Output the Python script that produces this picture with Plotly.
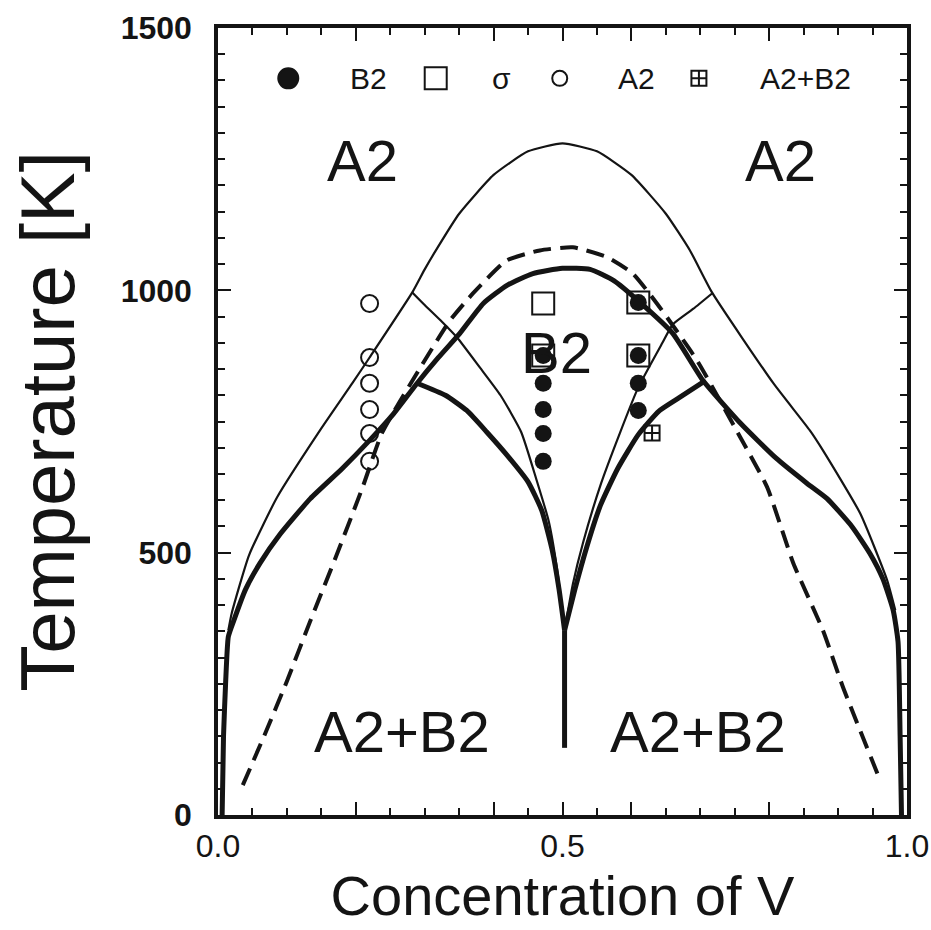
import plotly.graph_objects as go

# thin outer line (A2 order-disorder boundary)
x_thin_outer = [0.015, 0.02, 0.045, 0.086, 0.148, 0.195, 0.22, 0.282, 0.30, 0.318, 0.35, 0.40, 0.45,
                0.5, 0.55, 0.60, 0.65, 0.685, 0.717, 0.806, 0.859, 0.878, 0.932, 0.971, 0.983]
t_thin_outer = [352, 385, 495, 606, 733, 823, 872, 996, 1040, 1080, 1146, 1220, 1265,
                1280, 1265, 1220, 1146, 1076, 996, 823, 733, 695, 575, 448, 390]

# thick line: A2 / A2+B2 wings and B2 dome
x_thick_upper = [0.006, 0.008, 0.011, 0.015, 0.023, 0.04, 0.061, 0.09, 0.134, 0.18, 0.22, 0.255,
                 0.289, 0.32, 0.351, 0.385, 0.42, 0.457, 0.5, 0.54, 0.575, 0.61, 0.66, 0.704,
                 0.758, 0.81, 0.855, 0.884, 0.92, 0.946, 0.965, 0.98, 0.987, 0.99, 0.992]
t_thick_upper = [0, 150, 250, 340, 371, 430, 480, 535, 603, 660, 714, 765,
                 823, 872, 918, 975, 1010, 1032, 1042, 1040, 1018, 980, 918, 828,
                 747, 680, 632, 603, 550, 499, 450, 390, 330, 150, 0]

# thick lower branches down to the central cusp
x_thick_low_l = [0.289, 0.33, 0.361, 0.39, 0.42, 0.45, 0.47, 0.485, 0.495, 0.503]
t_thick_low_l = [823, 800, 771, 730, 685, 635, 580, 505, 430, 352]
x_thick_low_r = [0.704, 0.67, 0.64, 0.61, 0.58, 0.555, 0.535, 0.518, 0.503]
t_thick_low_r = [825, 796, 770, 725, 660, 590, 510, 430, 352]
x_cusp = [0.503, 0.503]
t_cusp = [352, 128]

# thin inner lines from the triple junctions
x_thin_in_l = [0.282, 0.30, 0.325, 0.347, 0.38, 0.41, 0.44, 0.462, 0.48, 0.492, 0.503]
t_thin_in_l = [996, 972, 940, 910, 853, 800, 730, 640, 560, 470, 352]
x_thin_in_r = [0.717, 0.69, 0.66, 0.645, 0.61, 0.583, 0.556, 0.53, 0.515, 0.503]
t_thin_in_r = [994, 965, 935, 900, 815, 727, 632, 520, 440, 352]

# dashed line
x_dash = [0.036, 0.07, 0.1, 0.134, 0.172, 0.21, 0.238, 0.29, 0.337, 0.37, 0.419, 0.467,
          0.515, 0.565, 0.602, 0.637, 0.695, 0.758, 0.797, 0.835, 0.878, 0.907, 0.958]
t_dash = [57, 160, 255, 370, 495, 625, 728, 845, 943, 994, 1057, 1076,
          1082, 1063, 1032, 975, 867, 720, 625, 480, 352, 244, 76]

# simulation points
x_a2 = [0.22, 0.22, 0.22, 0.22, 0.22, 0.22]
t_a2 = [975, 872, 823, 773, 727, 674]
x_b2 = [0.472, 0.472, 0.472, 0.472, 0.472, 0.61, 0.61, 0.61, 0.61]
t_b2 = [876, 823, 773, 727, 674, 977, 876, 823, 771]
x_sigma = [0.472, 0.472, 0.61, 0.61]
t_sigma = [975, 876, 977, 876]
x_a2b2 = [0.63]
t_a2b2 = [728]

legend_labels = ['B2', 'σ', 'A2', 'A2+B2']
region_labels = ['A2', 'A2', 'B2', 'A2+B2', 'A2+B2']
region_x = [0.209, 0.816, 0.492, 0.267, 0.697]
region_t = [1248, 1248, 882, 160, 160]

INK = '#141414'
FONT = 'Liberation Sans, Arial, sans-serif'

fig = go.Figure()

def line(x, y, width, dash='solid'):
    fig.add_trace(go.Scatter(x=x, y=y, mode='lines', showlegend=False, hoverinfo='skip',
                             line=dict(color=INK, width=width, dash=dash, shape='spline', smoothing=0.5)))

line(x_thin_outer, t_thin_outer, 2.2)
line(x_thin_in_l, t_thin_in_l, 2.2)
line(x_thin_in_r, t_thin_in_r, 2.2)
line(x_dash, t_dash, 4, dash='18px,9px')
line(x_thick_upper, t_thick_upper, 5)
line(x_thick_low_l, t_thick_low_l, 5)
line(x_thick_low_r, t_thick_low_r, 5)
line(x_cusp, t_cusp, 5)

# markers
fig.add_trace(go.Scatter(x=x_a2, y=t_a2, mode='markers', showlegend=False,
                         marker=dict(symbol='circle-open', size=17, color=INK, line=dict(width=2))))
fig.add_trace(go.Scatter(x=x_sigma, y=t_sigma, mode='markers', showlegend=False,
                         marker=dict(symbol='square-open', size=22, color=INK, line=dict(width=2))))
fig.add_trace(go.Scatter(x=x_b2, y=t_b2, mode='markers', showlegend=False,
                         marker=dict(symbol='circle', size=17, color=INK)))
fig.add_trace(go.Scatter(x=x_a2b2, y=t_a2b2, mode='markers', showlegend=False,
                         marker=dict(symbol='square-cross-open', size=15, color=INK, line=dict(width=2))))

# key row inside the frame
key_t = 1404
key_sym = ['circle', 'square-open', 'circle-open', 'square-cross-open']
key_size = [20, 22, 15, 15]
key_mx = [0.102, 0.316, 0.496, 0.698]
key_tx = [0.219, 0.412, 0.607, 0.852]
for mx, sym, sz in zip(key_mx, key_sym, key_size):
    fig.add_trace(go.Scatter(x=[mx], y=[key_t], mode='markers', showlegend=False, cliponaxis=False,
                             hoverinfo='skip',
                             marker=dict(symbol=sym, size=sz, color=INK, line=dict(width=2, color=INK))))
for tx, lab in zip(key_tx, legend_labels):
    fig.add_annotation(x=tx, y=key_t, text=lab, showarrow=False,
                       font=dict(family=FONT, size=30, color=INK))

for lab, rx, rt in zip(region_labels, region_x, region_t):
    fig.add_annotation(x=rx, y=rt, text=lab, showarrow=False,
                       font=dict(family=FONT, size=58, color=INK))

fig.update_xaxes(range=[0, 1], tickvals=[0, 0.2, 0.4, 0.5, 0.6, 0.8, 1.0],
                 ticktext=['0.0', '', '', '0.5', '', '', '1.0'], automargin=False,
                 ticks='inside', ticklen=13, tickwidth=2, tickcolor=INK,
                 minor=dict(dtick=0.05, ticks='inside', ticklen=7, tickwidth=2, tickcolor=INK),
                 showline=True, linewidth=3.5, linecolor=INK, mirror='ticks',
                 showgrid=False, zeroline=False,
                 tickfont=dict(family=FONT, size=32, color=INK),
                 title=dict(text='Concentration of V', font=dict(family=FONT, size=56, color=INK), standoff=6))
fig.update_yaxes(range=[0, 1500], tickvals=[0, 500, 1000, 1500], automargin=False,
                 ticks='inside', ticklen=13, tickwidth=2, tickcolor=INK,
                 minor=dict(dtick=50, ticks='inside', ticklen=7, tickwidth=2, tickcolor=INK),
                 showline=True, linewidth=3.5, linecolor=INK, mirror='ticks',
                 showgrid=False, zeroline=False, ticklabelstandoff=16,
                 tickfont=dict(family='Liberation Sans, Arial', size=32, color=INK, weight='bold'),
                 title=dict(text='Temperature [K]', font=dict(family=FONT, size=76, color=INK), standoff=22))

fig.update_layout(width=931, height=930, margin=dict(l=218, r=24, t=28, b=115),
                  paper_bgcolor='white', plot_bgcolor='white', showlegend=False)

fig.write_html('out.html', config={'displayModeBar': False},
               post_script="document.body.style.margin='0';")
